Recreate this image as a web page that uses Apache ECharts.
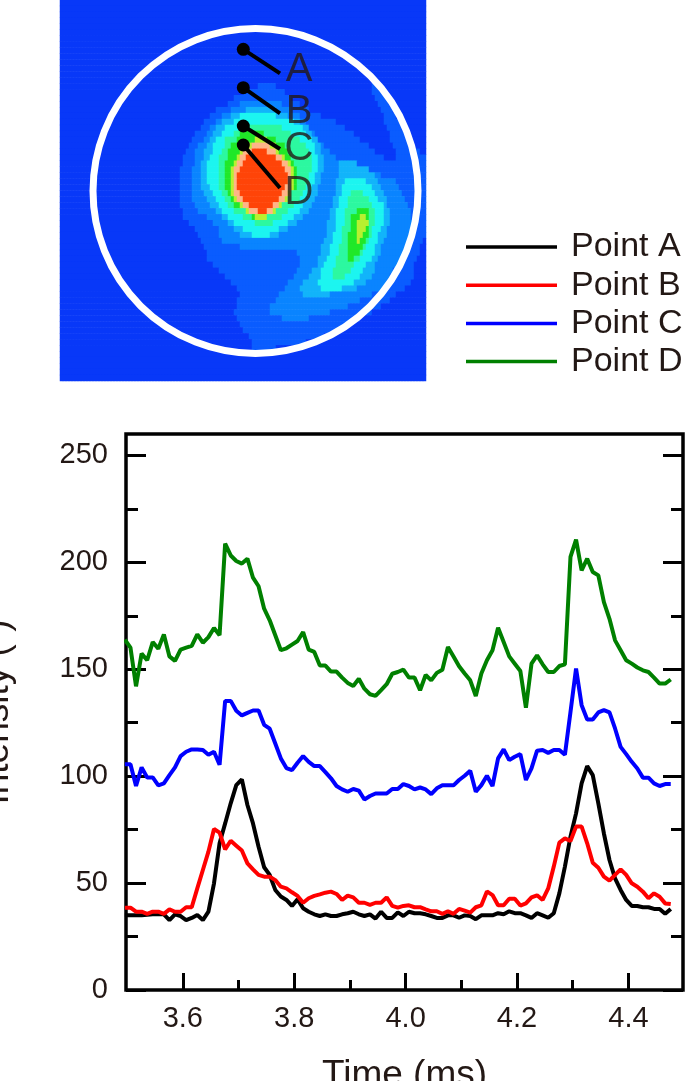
<!DOCTYPE html>
<html>
<head>
<meta charset="utf-8">
<style>
  html, body { margin: 0; padding: 0; background: #fff; }
  #chart { width: 685px; height: 1081px; }
</style>
<script src="https://cdn.jsdelivr.net/npm/echarts@6/dist/echarts.min.js"></script>
</head>
<body>
<div id="chart"></div>
<script>
// line chart values
const timeMs = [3.496,3.506,3.516,3.526,3.536,3.546,3.556,3.566,3.576,3.586,3.596,3.606,3.616,3.626,3.636,3.646,3.656,3.666,3.676,3.686,3.696,3.706,3.716,3.726,3.736,3.746,3.756,3.766,3.776,3.786,3.796,3.806,3.816,3.826,3.836,3.846,3.856,3.866,3.876,3.886,3.896,3.906,3.916,3.926,3.936,3.946,3.956,3.966,3.976,3.986,3.996,4.006,4.016,4.026,4.036,4.046,4.056,4.066,4.076,4.086,4.096,4.106,4.116,4.126,4.136,4.146,4.156,4.166,4.176,4.186,4.196,4.206,4.216,4.226,4.236,4.246,4.256,4.266,4.276,4.286,4.296,4.306,4.316,4.326,4.336,4.346,4.356,4.366,4.376,4.386,4.396,4.406,4.416,4.426,4.436,4.446,4.456,4.466,4.476];
const pointA = [34.9,34.9,34.9,34.9,35.2,35.4,35.4,35.4,32.7,35.4,34.6,32.7,33.7,35.1,32.7,36.6,49.9,68.6,77.9,87.3,95.8,98.5,86.5,77.9,67,57.4,53.8,46.8,43.7,42.1,39.3,42.4,38.2,36.6,35.4,34.6,35.4,34.6,34.6,35.4,35.9,36.6,35.4,34.6,35.4,33.4,36.6,33.7,33.7,36.3,34.6,36.6,35.9,35.9,35.4,34.6,33.7,33.7,34.9,34.9,33.8,34.9,34.6,33.1,34.9,34.9,34.9,35.9,35.4,36.8,35.9,35.9,34.9,33.7,35.9,34.9,33.8,35.9,45.2,57.7,71.7,82.6,96.6,104.7,100.5,87.3,73.2,60.8,52.2,46.8,42.1,39.3,39.3,38.7,38.7,37.9,37.9,35.6,37.9];
const pointB = [38.5,38.5,36.6,36.6,35.6,36.6,36.6,35.6,37.7,36.6,36.6,38.7,38.7,47.5,56.1,64.7,75.3,73.6,65.8,69.8,67.5,65.2,59.2,56.4,53.8,53,53,51.4,48.3,47.5,45.7,44,40.8,42.9,44,44.7,45.5,46,44.9,42.1,44.1,43.3,40.8,40.8,39.8,40.8,40.8,43.3,39.3,38.5,39.3,39.6,38.7,38.7,37.7,36.8,36.8,35.6,36.8,35.6,37.9,37.1,36.2,38.7,39.6,46.1,44.4,39.6,39.6,42.7,42.7,39.5,40.5,43.3,44.3,42.1,47.5,57.7,68.9,70.9,69.7,76.4,76.4,68.6,59.5,57.2,53,51.1,53.8,56.4,53.8,49.9,48.3,46,42.9,45.2,43.6,40.5,40.2];
const pointC = [105.6,105.6,95.4,104.1,99.4,99.4,95.7,96.6,100.5,104.1,109.4,111.4,112.5,112.5,112.2,110,111.4,105.3,135.2,135.2,130.6,128.4,129.6,130.7,130.7,124,122.2,115.3,108.3,103.8,102.8,106.3,109.4,106.7,104.7,104.7,101.9,99,95.4,93.8,92.7,94,93.2,89.1,90.7,91.9,91.9,91.9,94,94,96.3,95.4,93.8,94.7,93.8,91.6,94.3,95.7,95.7,95.7,98.2,100.2,102.5,92.7,95.8,100.2,95.4,108.3,112.5,107.5,109.1,110.3,98.2,103.6,111.9,112.2,110.9,112.2,112.2,110,130,150.3,133.2,126.5,126.5,129.8,130.9,129.8,122.3,113.7,110.3,106.7,103.6,99.3,99.3,96.6,95.4,96.3,96.3];
const pointD = [163.8,160.1,142,157.3,154.2,162.7,159.6,166.3,156,153.9,159.2,160.1,160.9,166.3,162.4,165,169.3,165.9,208.7,203.2,200.6,199.4,201.7,192.8,188.8,178.3,172.9,165.9,158.9,159.8,161.5,163.2,167.4,159.2,158.1,151.7,151.7,148.9,148.9,146.1,143.6,142.2,145.5,140.9,138.3,137.5,140.2,143,147.9,148.7,149.8,146.1,146.1,140.2,147.3,144.8,148.3,149.8,160.4,156,151.4,148,144.8,137.5,148,154.2,158.9,169.4,162.7,156,152.6,149.2,132,152.6,156.5,152.3,148.7,148.7,151.5,152.3,202.5,210.6,196.2,201.7,195.5,193.9,181.4,173.6,163.5,158.9,154.2,152.6,150.8,149.5,148.7,146.1,143.3,143.3,145.2];

const seriesNames = ["Point A", "Point B", "Point C", "Point D"];
const seriesColors = ["#000000", "#ff0000", "#0000ff", "#008000"];

const xMajorTicks = [3.6, 3.8, 4.0, 4.2, 4.4];
const xMinorTicks = [3.7, 3.9, 4.1, 4.3];
const yMajorTicks = [0, 50, 100, 150, 200, 250];
const yMinorTicks = [25, 75, 125, 175, 225];

// false colour image: [row, first column, last column] for each level, painted low to high
const heatCols = 61;
const heatRows = 64;
const heatColors = ["#0838f8", "#0a5cff", "#0a84ff", "#12b4fa", "#1cf5f0", "#2cf8a0", "#20e828", "#b8f030", "#ffb488", "#ff4408"];

const level1Main = [[14,33,36],[15,30.5,37.5],[16,29,38.5],[17,28,40],[18,26,41.5],[19,25,43.5],[20,24,46],[21,23.5,47.5],[22,22.5,49],[23,22,50],[24,21.5,51.5],[25,21,52.5],[26,20.5,54],[27,20.3,61],[28,20.2,61],[29,20,61],[30,20,61],[31,19.8,61],[32,19.8,61],[33,20,61],[34,20.2,61],[35,20.4,61],[36,20.6,61],[37,21.5,61],[38,22.6,61],[39,23,61],[40,23.6,60.5],[41,24,60],[42,24.3,59.8],[43,24.7,59.5],[44,25.5,59.2],[45,26.3,59],[46,27.3,58.8],[47,28.6,58.5],[48,29.6,57.5],[49,30,56],[50,29.6,55],[51,29.3,53.5],[52,29.2,52],[53,29.7,50],[54,30,48.5],[55,30.7,46.5],[56,31.4,44],[57,32,41],[58,32,36]];
const level1Edge = [[14,52,53],[15,52,54],[16,52.5,54.5],[17,53,55],[18,53.5,55.5],[19,54,56],[20,54,57],[21,54.5,57],[22,55,58],[23,55,58],[24,55.5,59],[25,56,60],[26,56,61]];
const level2 = [[17,30,37],[18,28.5,38.5],[19,27,40],[20,26,41],[21,25,41.7],[22,24.5,42.5],[23,24,43],[24,23,43.8],[25,22.7,45],[26,22.5,46],[27,22.3,48],[28,22,51],[29,22,53.5],[30,21.9,56],[31,21.9,56.7],[32,21.8,57.2],[33,21.9,57.6],[34,22.3,58],[35,23,58.4],[36,24.5,58.7],[37,25.5,58.9],[38,26.3,58.9],[39,26.5,58.6],[40,26.8,58.2],[41,30,57.9],[42,39.5,57.5],[43,40,57],[44,40,56.3],[45,39.5,55.5],[46,38.8,55],[47,38.2,54.3],[48,37.5,53.9],[49,36.7,52],[50,36,50],[51,35.2,48],[52,35.2,45],[53,36.8,41.5]];
const level3Left = [[18,31,36],[19,28.5,38],[20,27,40],[21,26,41.3],[22,25.5,42],[23,25,42.8],[24,24.6,43.4],[25,24.2,43.7],[26,24,44],[27,23.7,44.2],[28,23.6,44],[29,23.5,43.7],[30,23.4,43.5],[31,23.4,43.2],[32,23.9,43],[33,24.4,42.7],[34,25,42.2],[35,26,41.5],[36,27,40.5],[37,28.2,39.4],[38,29,38],[39,30,36.5]];
const level3Right = [[27,46.5,49.5],[28,46.5,51.5],[29,46.5,52.5],[30,46.2,53],[31,46,53.5],[32,45.8,54],[33,45.6,54.4],[34,45.3,54.5],[35,45,54.8],[36,44.8,55],[37,44.6,55],[38,44.5,54.6],[39,44.3,54.3],[40,44,54],[41,43.7,53.7],[42,43.5,53.3],[43,43.2,53],[44,42.8,52.7],[45,42,52.3],[46,41.4,52],[47,40.7,51],[48,40.2,49.5],[49,40.5,45]];
const level4Left = [[19,30,36],[20,29,39],[21,27.7,40.5],[22,27,41],[23,26,41.8],[24,25.5,42.3],[25,25.3,42.6],[26,25,42.8],[27,24.7,43],[28,24.7,42.8],[29,24.7,42.5],[30,24.7,42.4],[31,24.8,42.2],[32,25.3,41.7],[33,25.8,41.2],[34,26.3,40.5],[35,27,39.8],[36,28,39],[37,29,38],[38,30.5,36.5],[39,32,35]];
const level4Right = [[30,47.5,51],[31,47,52.2],[32,46.8,52.7],[33,46.5,53.2],[34,46.3,53.8],[35,46.1,53.9],[36,46,53.9],[37,45.9,53.9],[38,45.8,53.6],[39,45.6,53.2],[40,45.4,53],[41,45.2,52.6],[42,45,52.3],[43,44.7,52],[44,44,51.2],[45,43.7,50.7],[46,43.3,50],[47,43,49.2],[48,43.5,47]];
const level5Left = [[21,30,37],[22,29,38.5],[23,27.7,40],[24,27.3,40.8],[25,27,41.6],[26,26.6,41.8],[27,26.4,41.9],[28,26.4,42],[29,26.5,41.6],[30,26.6,41.3],[31,26.7,41],[32,27.2,40.4],[33,27.7,39.8],[34,28.2,39],[35,29.2,38],[36,30.5,37],[37,32.5,35.5]];
const level5Right = [[32,48.7,50.5],[33,48,51.5],[34,47.8,52],[35,47.6,52.4],[36,47.5,52.5],[37,47.3,52.5],[38,47.2,52.2],[39,47,51.9],[40,46.8,51.6],[41,46.5,51.2],[42,46.3,50.6],[43,46.1,50],[44,45.8,49.2],[45,45.7,48.3],[46,45.6,47.3]];
const level6Left = [[22,30,34],[23,29.5,36],[24,28.5,37.5],[25,28,38.2],[26,27.8,38.7],[27,27.7,39.2],[28,27.5,39.4],[29,27.5,39.4],[30,27.5,39.4],[31,27.6,39.4],[32,28,38.7],[33,28.6,38],[34,29.2,37],[35,30.8,36],[36,32,34.5]];
const level6Right = [[35,49.3,51.3],[36,48.7,51.7],[37,48.5,51.7],[38,48.3,51.7],[39,48,51.3],[40,48,51],[41,48,50.5],[42,48,50],[43,47.9,49.2]];
const level7Left = [[23,32.5,34.5],[24,31,36],[25,30,36.7],[26,29.5,37.6],[27,29,38.5],[28,28.5,39],[29,28.3,39.2],[30,28.3,39.1],[31,28.3,38.9],[32,28.5,38.5],[33,29,37.8],[34,30,37.2],[35,31,36],[36,32.5,34.5]];
const level7Right = [[36,50,51.2],[37,49.7,51.4],[38,49.5,51],[39,49.5,50.6],[40,49.6,50]];
const level8 = [[24,32,35],[25,30.5,36],[26,30,37],[27,29.5,38],[28,29,38.5],[29,28.8,38.7],[30,28.8,38.6],[31,28.8,38.4],[32,29,38],[33,29.5,37.3],[34,30.5,36.7],[35,31.5,35.5]];
const level9 = [[25,32,34.5],[26,31,35.8],[27,30.5,37],[28,30,37.5],[29,29.5,37.8],[30,29.5,37.8],[31,29.5,37.5],[32,30,37.2],[33,30.5,36.3],[34,31.5,35.7],[35,33,34.5]];

// marked points on the image, in image pixels
const markLetters = ["A", "B", "C", "D"];
const markX = [183.3, 183.3, 183.3, 183.3];
const markY = [49.3, 87.7, 126, 145];
const leaderX = [220, 220, 220, 220];
const leaderY = [73.3, 113.3, 149, 188];
const letterX = [239, 239, 239, 239];
const letterY = [70, 111.7, 149, 193];

const paintOrder = [
  [1, level1Main], [1, level1Edge], [2, level2], [3, level3Left], [3, level3Right],
  [4, level4Left], [4, level4Right], [5, level5Left], [5, level5Right],
  [6, level6Left], [6, level6Right], [7, level7Left], [7, level7Right], [8, level8], [9, level9],
];

// half column cells, so the contour edges come out less blocky
const cellCols = heatCols * 2;
const cells = [];
for (let r = 0; r < heatRows; r++) cells.push(new Array(cellCols).fill(0));
paintOrder.forEach(([level, rows]) => {
  rows.forEach(([r, from, to]) => {
    for (let c = Math.round(from * 2); c < Math.round(to * 2) && c < cellCols; c++) cells[r][c] = level;
  });
});
const heatData = [];
cells.forEach((row, r) => row.forEach((v, c) => heatData.push([c, r, v])));

const textColor = "#231815";
const fontFamily = "Liberation Sans, Arial, sans-serif";

const mychart = echarts.init(document.getElementById("chart"), null, { renderer: "canvas" });

const hiddenAxis = { show: false };
const tickAxis = (position, values, length, extra) => ({
  gridIndex: 2,
  type: "value",
  position: position,
  axisLine: { show: false },
  splitLine: { show: false },
  axisLabel: { show: false },
  axisTick: {
    show: true,
    inside: true,
    length: length,
    customValues: values,
    lineStyle: { color: "#000", width: 3 },
  },
  ...extra,
});

const xRange = { min: 3.498, max: 4.498 };
const yRange = { min: 0, max: 260 };

const option = {
  animation: false,
  backgroundColor: "#fff",
  textStyle: { fontFamily: fontFamily },
  grid: [
    { left: 60, top: 0, width: 366, height: 381, outerBoundsMode: "none" },
    { left: 60, top: 0, width: 366, height: 381, outerBoundsMode: "none" },
    { left: 126, right: 2, top: 434, bottom: 91, outerBoundsMode: "none", show: true, borderColor: "#000", borderWidth: 3.5, backgroundColor: "#fff" },
  ],
  legend: {
    data: seriesNames,
    orient: "vertical",
    left: 461,
    top: 225,
    icon: "rect",
    itemWidth: 91,
    itemHeight: 3.5,
    itemGap: 4.2,
    selectedMode: false,
    textStyle: { fontSize: 34, lineHeight: 34, color: textColor, padding: [0, 0, 0, 9], fontFamily: fontFamily },
  },
  xAxis: [
    { gridIndex: 0, type: "category", data: cells[0].map((_, c) => c), ...hiddenAxis },
    { gridIndex: 1, type: "value", min: 0, max: 366, ...hiddenAxis },
    {
      ...tickAxis("bottom", xMajorTicks, 17),
      ...xRange,
      name: "Time (ms)",
      nameLocation: "middle",
      nameGap: 67,
      nameTextStyle: { fontSize: 37, color: textColor },
      axisLabel: {
        show: true,
        customValues: xMajorTicks,
        fontSize: 29,
        margin: 14,
        color: textColor,
        formatter: (v) => v.toFixed(1),
      },
    },
    { ...tickAxis("bottom", xMinorTicks, 10), ...xRange },
  ],
  yAxis: [
    { gridIndex: 0, type: "category", inverse: true, data: cells.map((_, r) => r), ...hiddenAxis },
    { gridIndex: 1, type: "value", inverse: true, min: 0, max: 381, ...hiddenAxis },
    {
      ...tickAxis("left", yMajorTicks, 20),
      ...yRange,
      name: "Intensity (-)",
      nameLocation: "middle",
      nameGap: 110,
      nameTextStyle: { fontSize: 37, color: textColor },
      axisLabel: {
        show: true,
        customValues: yMajorTicks,
        fontSize: 29,
        margin: 18,
        color: textColor,
      },
    },
    { ...tickAxis("left", yMinorTicks, 12), ...yRange },
    { ...tickAxis("right", yMajorTicks, 20), ...yRange },
    { ...tickAxis("right", yMinorTicks, 12), ...yRange },
  ],
  visualMap: {
    show: false,
    type: "piecewise",
    seriesIndex: 0,
    dimension: 2,
    pieces: heatColors.map((color, i) => ({ value: i, color: color })),
  },
  series: [
    {
      type: "heatmap",
      xAxisIndex: 0,
      yAxisIndex: 0,
      data: heatData,
      progressive: 0,
      silent: true,
    },
    // white ring of the cylinder bore
    {
      type: "scatter",
      xAxisIndex: 1,
      yAxisIndex: 1,
      data: [[195.5, 191]],
      symbolSize: 325,
      silent: true,
      itemStyle: { color: "rgba(0,0,0,0)", borderColor: "#fff", borderWidth: 7, opacity: 1 },
    },
    ...markLetters.map((_, i) => ({
      type: "line",
      xAxisIndex: 1,
      yAxisIndex: 1,
      data: [[markX[i], markY[i]], [leaderX[i], leaderY[i]]],
      showSymbol: false,
      symbol: "none",
      silent: true,
      lineStyle: { color: "#000", width: 4 },
    })),
    {
      type: "scatter",
      xAxisIndex: 1,
      yAxisIndex: 1,
      data: markX.map((x, i) => [x, markY[i]]),
      symbolSize: 13,
      silent: true,
      itemStyle: { color: "#000", opacity: 1 },
    },
    {
      type: "scatter",
      xAxisIndex: 1,
      yAxisIndex: 1,
      data: letterX.map((x, i) => [x, letterY[i]]),
      symbolSize: 1,
      silent: true,
      itemStyle: { color: "rgba(0,0,0,0)" },
      label: {
        show: true,
        position: "inside",
        fontSize: 40,
        color: textColor,
        formatter: (p) => markLetters[p.dataIndex],
      },
    },
    ...[pointA, pointB, pointC, pointD].map((values, i) => ({
      name: seriesNames[i],
      type: "line",
      xAxisIndex: 2,
      yAxisIndex: 2,
      data: values.map((v, j) => [timeMs[j], v]),
      symbol: "none",
      clip: true,
      lineStyle: { color: seriesColors[i], width: 4 },
      itemStyle: { color: seriesColors[i] },
    })),
  ],
};
mychart.setOption(option);
</script>
</body>
</html>
